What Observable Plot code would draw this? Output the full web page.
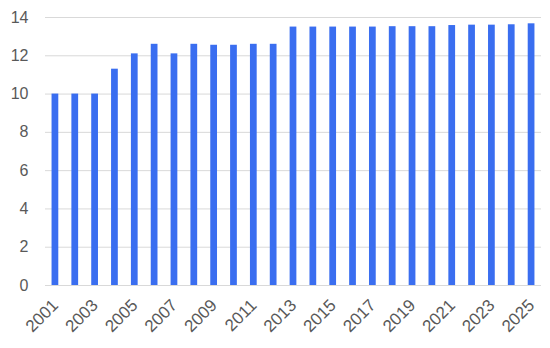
<!DOCTYPE html>
<html>
<head>
<meta charset="utf-8">
<script src="https://cdn.jsdelivr.net/npm/d3@7"></script>
<script src="https://cdn.jsdelivr.net/npm/@observablehq/plot@0.6"></script>
<style>
  html, body { margin: 0; padding: 0; background: #fff; }
  #chart svg { display: block; }
</style>
</head>
<body>
<div id="chart"></div>
<script>
const years = [2001,2002,2003,2004,2005,2006,2007,2008,2009,2010,2011,2012,2013,2014,2015,2016,2017,2018,2019,2020,2021,2022,2023,2024,2025];
const values = [10.0,10.0,10.0,11.3,12.1,12.6,12.1,12.6,12.55,12.55,12.6,12.6,13.5,13.5,13.5,13.5,13.5,13.52,13.52,13.52,13.58,13.6,13.6,13.62,13.67];
const xTickLabels = [2001,2003,2005,2007,2009,2011,2013,2015,2017,2019,2021,2023,2025];
const yTicks = [0,2,4,6,8,10,12,14];

const data = years.map((y, i) => ({year: y, value: values[i]}));

const chart = Plot.plot({
  width: 550,
  height: 348,
  marginTop: 17,
  marginLeft: 45,
  marginRight: 9,
  marginBottom: 63,
  style: {fontFamily: "'Liberation Sans', Arial, sans-serif", fontSize: "16px", color: "#595959", background: "#fff"},
  x: {domain: years, paddingInner: 0.66, paddingOuter: 0.33, align: 0.5, round: false, label: null},
  y: {domain: [0, 14], label: null},
  marks: [
    Plot.gridY(yTicks, {stroke: "#d9d9d9", strokeOpacity: 1, strokeWidth: 1}),
    Plot.barY(data, {x: "year", y: "value", fill: "#3a6ef0"}),
    Plot.axisY(yTicks, {tickSize: 0, tickPadding: 17, fill: "#595959", fontSize: 16, tickFormat: d => String(d)}),
    Plot.axisX(xTickLabels, {tickSize: 0, tickPadding: 17, tickRotate: -45, fill: "#595959", fontSize: 17, tickFormat: d => String(d)})
  ]
});
document.getElementById("chart").appendChild(chart);
</script>
</body>
</html>
